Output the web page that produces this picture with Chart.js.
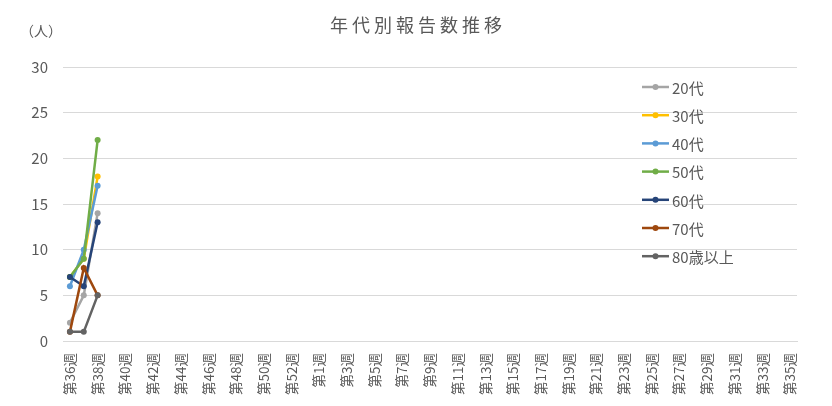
<!DOCTYPE html>
<html>
<head>
<meta charset="utf-8">
<script src="https://cdn.jsdelivr.net/npm/chart.js@4"></script>
<style>
  html, body { margin: 0; padding: 0; background: #fff; }
  #wrap { width: 832px; height: 406px; }
</style>
</head>
<body>
<div id="wrap"><canvas id="ageChart"></canvas></div>
<script>
// 週ラベル（第36週〜第53週、第1週〜第35週）
const weeks = [];
for (let w = 36; w <= 53; w++) weeks.push('第' + w + '週');
for (let w = 1; w <= 35; w++) weeks.push('第' + w + '週');

const seriesNames = ['20代', '30代', '40代', '50代', '60代', '70代', '80歳以上'];
const seriesColors = ['#A5A5A5', '#FFC000', '#5B9BD5', '#70AD47', '#264478', '#9E480E', '#636363'];

// 報告数（第36週〜第38週のみ）
const age20 = [2, 5, 14];
const age30 = [7, 9, 18];
const age40 = [6, 10, 17];
const age50 = [7, 9, 22];
const age60 = [7, 6, 13];
const age70 = [1, 8, 5];
const age80 = [1, 1, 5];

const yTicks = [0, 5, 10, 15, 20, 25, 30];

const FONT = '"Noto Sans CJK JP", "Noto Sans", sans-serif';
const TEXT = '#595959';

const allSeries = [age20, age30, age40, age50, age60, age70, age80];

const datasets = allSeries.map((vals, i) => ({
    label: seriesNames[i],
    data: vals,
    borderColor: seriesColors[i],
    backgroundColor: seriesColors[i],
    borderWidth: 2.5,
    pointRadius: 3,
    pointBorderWidth: 0,
    pointHoverRadius: 3,
    tension: 0,
    order: 10 - i
}));

// タイトル・単位・凡例の描画
const decorPlugin = {
    id: 'decor',
    afterDraw(chart) {
        const ctx = chart.ctx;
        ctx.save();
        ctx.fillStyle = TEXT;
        ctx.textBaseline = 'middle';

        ctx.font = '18px ' + FONT;
        ctx.textAlign = 'center';
        ctx.letterSpacing = '4px';
        ctx.fillText('年代別報告数推移', 418, 25);
        ctx.letterSpacing = '0px';

        ctx.font = '14px ' + FONT;
        ctx.textAlign = 'left';
        ctx.fillText('（人）', 20, 31);

        ctx.font = '15px ' + FONT;
        seriesNames.forEach((name, i) => {
            const y = 87 + i * 28.2;
            ctx.strokeStyle = seriesColors[i];
            ctx.lineWidth = 2.5;
            ctx.beginPath();
            ctx.moveTo(642, y);
            ctx.lineTo(669, y);
            ctx.stroke();
            ctx.fillStyle = seriesColors[i];
            ctx.beginPath();
            ctx.arc(655.5, y, 3, 0, Math.PI * 2);
            ctx.fill();
            ctx.fillStyle = TEXT;
            ctx.fillText(name, 672, y + 1);
        });
        ctx.restore();
    }
};

new Chart(document.getElementById('ageChart'), {
    type: 'line',
    data: { labels: weeks, datasets: datasets },
    options: {
        responsive: true,
        maintainAspectRatio: false,
        animation: false,
        layout: { padding: { top: 67, left: 0, right: 35, bottom: 0 } },
        scales: {
            x: {
                offset: true,
                grid: { display: false },
                border: { display: true, color: '#D9D9D9', width: 1 },
                ticks: {
                    autoSkip: false,
                    maxRotation: 90,
                    minRotation: 90,
                    padding: 4,
                    color: TEXT,
                    font: { family: FONT, size: 13.5 },
                    callback: function (value, index) {
                        return index % 2 === 0 ? weeks[index] : '';
                    }
                },
                afterFit: (scale) => { scale.height = 65; }
            },
            y: {
                min: 0,
                max: 30,
                afterBuildTicks: (scale) => {
                    scale.ticks = yTicks.map(v => ({ value: v }));
                },
                grid: { color: '#D9D9D9', lineWidth: 1, drawTicks: false },
                border: { display: false },
                ticks: {
                    padding: 15,
                    color: TEXT,
                    font: { family: FONT, size: 15 }
                },
                afterFit: (scale) => { scale.width = 63; }
            }
        },
        plugins: {
            legend: { display: false },
            title: { display: false },
            tooltip: { enabled: false }
        }
    },
    plugins: [decorPlugin]
});
</script>
</body>
</html>
